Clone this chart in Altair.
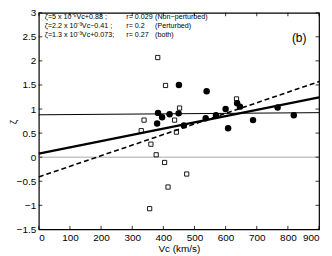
import altair as alt
import pandas as pd

# Non-perturbed (filled circles)
np_vc = [383, 396, 380, 420, 449, 450, 466, 536, 539, 569, 600, 608, 637, 646, 688, 767, 819]
np_z = [0.92, 0.83, 0.70, 0.89, 0.91, 1.50, 0.66, 0.81, 1.37, 0.87, 1.00, 0.60, 1.12, 1.05, 0.77, 1.03, 0.87]

# Perturbed (open squares)
p_vc = [382, 407, 452, 338, 436, 329, 442, 360, 377, 404, 475, 415, 356, 635]
p_z = [2.07, 1.49, 1.02, 0.77, 0.77, 0.55, 0.52, 0.27, 0.05, -0.11, -0.35, -0.62, -1.07, 1.21]

# Fits: slope, intercept
fit_names = ["non", "pert", "both"]
fit_slope = [5e-5, 2.2e-3, 1.3e-3]
fit_icpt = [0.88, -0.41, 0.073]

x_ticks = [0, 100, 200, 300, 400, 500, 600, 700, 800, 900]
y_ticks = [-1.5, -1, -0.5, 0, 0.5, 1, 1.5, 2, 2.5, 3]

legend_col1 = ["ζ=5   x 10⁻⁵Vc+0.88  ;", "ζ=2.2 x 10⁻³Vc−0.41  ;", "ζ=1.3 x 10⁻³Vc+0.073;"]
legend_col2 = ["r= 0.029", "r= 0.2", "r= 0.27"]
legend_col3 = ["(Non−perturbed)", "(Perturbed)", "(both)"]

FONT = "Liberation Sans"
W, H = 282, 218

xs = alt.Scale(domain=[0, 900], nice=False, zero=False)
ys = alt.Scale(domain=[-1.5, 3], nice=False, zero=False)

x_axis = alt.Axis(values=x_ticks, format="d", grid=False, domain=False, ticks=False,
                  labelFont=FONT, labelFontSize=10, labelColor="black", labelPadding=3,
                  titleFont=FONT, titleFontSize=10, titleFontWeight="normal",
                  titleColor="black", titlePadding=1)
y_axis = alt.Axis(values=y_ticks, format="~g", grid=False, domain=False, ticks=False,
                  labelFont=FONT, labelFontSize=10, labelColor="black", labelPadding=3,
                  title=None)

X = alt.X("vc:Q", scale=xs, title="Vc (km/s)", axis=x_axis)
Y = alt.Y("z:Q", scale=ys, axis=y_axis)

df_np = pd.DataFrame({"vc": np_vc, "z": np_z})
df_p = pd.DataFrame({"vc": p_vc, "z": p_z})

rows = []
for n, s, b in zip(fit_names, fit_slope, fit_icpt):
    for x in (0, 900):
        rows.append({"fit": n, "vc": x, "z": s * x + b})
df_fit = pd.DataFrame(rows)

zero = alt.Chart(pd.DataFrame({"z": [0]})).mark_rule(color="#a8a8a8", strokeWidth=1).encode(y=Y)

styles = {"non": dict(strokeWidth=1.0), "pert": dict(strokeWidth=1.6, strokeDash=[5, 3]),
          "both": dict(strokeWidth=2.2)}
lines = [alt.Chart(df_fit[df_fit.fit == n]).mark_line(color="black", **styles[n]).encode(x=X, y=Y)
         for n in fit_names]

circles = alt.Chart(df_np).mark_point(shape="circle", filled=True, color="black", size=42,
                                      opacity=1).encode(x=X, y=Y)
squares = alt.Chart(df_p).mark_point(shape="square", filled=False, color="black", size=18,
                                     strokeWidth=0.9, opacity=1).encode(x=X, y=Y)

df_xt = pd.DataFrame({"vc": x_ticks})
df_yt = pd.DataFrame({"z": y_ticks})
tk = dict(color="black", strokeWidth=0.8)
tb = alt.Chart(df_xt).mark_rule(**tk).encode(x=X, y=alt.value(H), y2=alt.value(H - 3.5))
tt = alt.Chart(df_xt).mark_rule(**tk).encode(x=X, y=alt.value(0), y2=alt.value(3.5))
tl = alt.Chart(df_yt).mark_rule(**tk).encode(y=Y, x=alt.value(0), x2=alt.value(3.5))
tr = alt.Chart(df_yt).mark_rule(**tk).encode(y=Y, x=alt.value(W), x2=alt.value(W - 3.5))

texts = []
row_y = [4.5, 13.5, 22.5]
for col, cx in ((legend_col1, 6), (legend_col2, 88), (legend_col3, 117)):
    for t, yy in zip(col, row_y):
        texts.append(alt.Chart(pd.DataFrame({"t": [t]})).mark_text(
            font=FONT, fontSize=7.2, align="left", baseline="middle", color="black").encode(
            text="t:N", x=alt.value(cx), y=alt.value(yy)))

label_b = alt.Chart(pd.DataFrame({"t": ["(b)"]})).mark_text(
    font=FONT, fontSize=12, align="center", baseline="middle", color="black").encode(
    text="t:N", x=alt.value(262), y=alt.value(25))

y_title = alt.Chart(pd.DataFrame({"t": ["ζ"]})).mark_text(
    font=FONT, fontSize=10, align="center", baseline="middle", angle=270, color="black").encode(
    text="t:N", x=alt.value(-25), y=alt.value(110))

chart = alt.layer(zero, circles, squares, *lines, tb, tt, tl, tr, *texts, label_b, y_title).properties(
    width=W, height=H,
    padding={"left": 31, "top": 4, "right": 5, "bottom": 26},
    autosize=alt.AutoSizeParams(type="none"),
    background="white",
).configure_view(stroke="black", strokeWidth=1.2)

chart.save("out.html", embed_options={"renderer": "svg", "actions": False})
